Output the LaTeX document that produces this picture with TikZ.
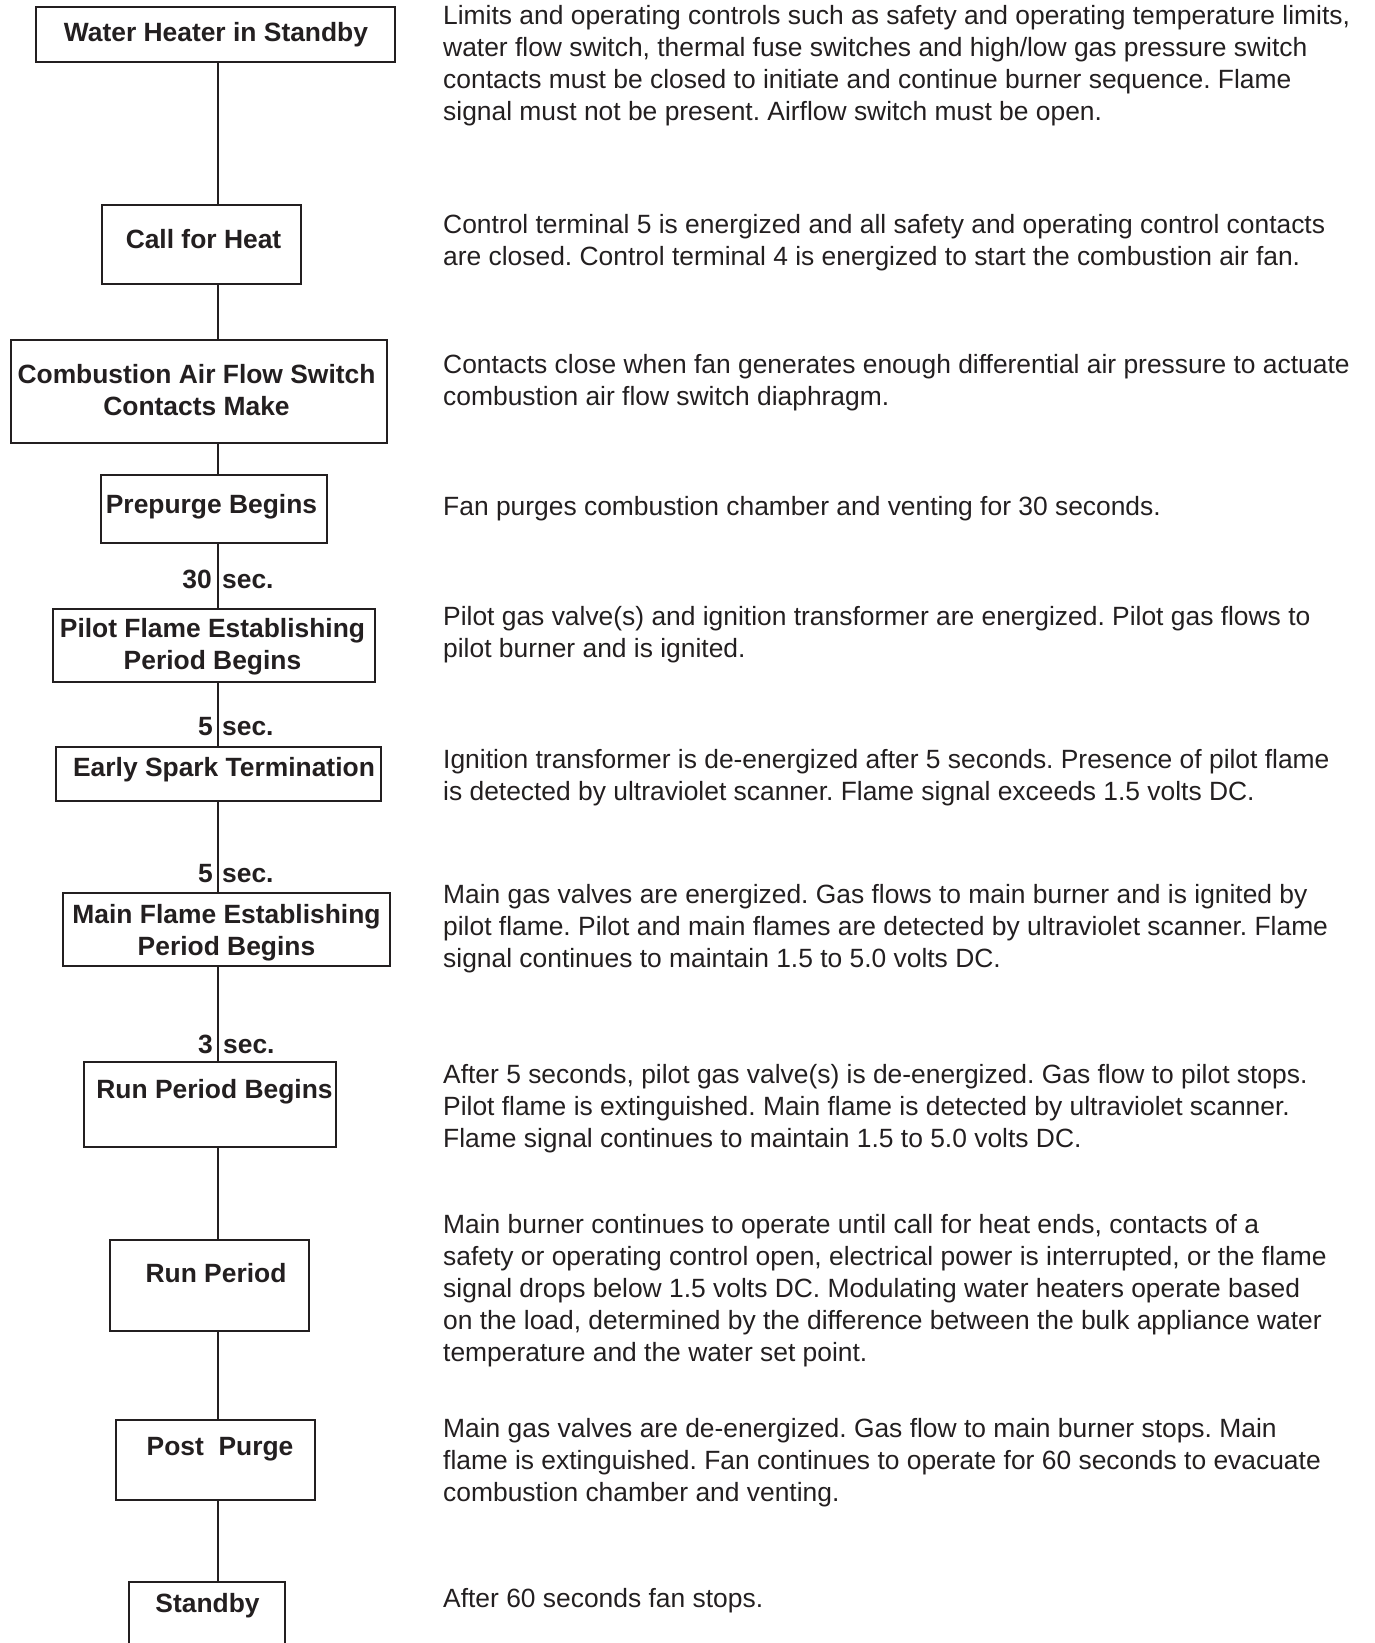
\documentclass[tikz,border=0pt]{standalone}
\usepackage{fontspec}
\setmainfont{Liberation Sans}
\frenchspacing
\definecolor{ink}{RGB}{35,31,32}
\tikzset{
  box/.style={draw=ink, line width=2.6pt, fill=white, inner sep=0pt},
  btext/.style={font=\bfseries\fontsize{26.4}{32}\selectfont, text=ink, inner sep=0pt, anchor=base},
  btwo/.style={btext, align=center, anchor=north, yshift=22.4pt},
  desc/.style={font=\fontsize{26.4}{32}\selectfont, text=ink, inner sep=0pt, align=left, anchor=north west, yshift=22.4pt},
  link/.style={draw=ink, line width=2pt}
}

\begin{document}
\begin{tikzpicture}[x=1pt,y=-1pt]
\useasboundingbox (0,0) rectangle (1374,1643);
\coordinate (spine) at (218,0);

\node[box, minimum width=359pt, minimum height=55pt] (b1) at (215.5,34.5) {};
\node[box, minimum width=199pt, minimum height=79pt] (b2) at (201.5,244.5) {};
\node[box, minimum width=376pt, minimum height=103pt] (b3) at (199,391.5) {};
\node[box, minimum width=226pt, minimum height=68pt] (b4) at (214,509) {};
\node[box, minimum width=322pt, minimum height=73pt] (b5) at (214,645.5) {};
\node[box, minimum width=325pt, minimum height=54pt] (b6) at (218.5,774) {};
\node[box, minimum width=327pt, minimum height=73pt] (b7) at (226.5,929.5) {};
\node[box, minimum width=252pt, minimum height=85pt] (b8) at (210,1104.5) {};
\node[box, minimum width=199pt, minimum height=91pt] (b9) at (209.5,1285.5) {};
\node[box, minimum width=199pt, minimum height=80pt] (b10) at (215.5,1460) {};
\node[box, minimum width=156pt, minimum height=98pt] (b11) at (207,1631) {};

\foreach \a/\b in {b1/b2,b2/b3,b3/b4,b4/b5,b5/b6,b6/b7,b7/b8,b8/b9,b9/b10,b10/b11}
  \draw[link] (\a.south -| spine) -- (\b.north -| spine);

\node[btext] (t1) at (216,42) {Water Heater in Standby};
\node[btext] (t2) at (203.5,248) {Call for Heat};
\node[btwo] (t3) at (196.5,383) {\strut Combustion Air Flow Switch\\Contacts Make};
\node[btext] (t4) at (211.5,513) {Prepurge Begins};
\node[btwo] (t5) at (212.5,637) {\strut Pilot Flame Establishing\\Period Begins};
\node[btext] (t6) at (224,776) {Early Spark Termination};
\node[btwo] (t7) at (226.5,923) {\strut Main Flame Establishing\\Period Begins};
\node[btext] (t8) at (214.5,1098) {Run Period Begins};
\node[btext] (t9) at (216,1282) {Run Period};
\node[btext] (t10) at (220,1455) {Post\ \ Purge};
\node[btext] (t11) at (207.5,1612) {Standby};

\node[btext, anchor=base east] (n1) at (212,588) {30};
\node[btext, anchor=base west] (s1) at (222,588) {sec.};
\node[btext, anchor=base east] (n2) at (213,735) {5};
\node[btext, anchor=base west] (s2) at (222,735) {sec.};
\node[btext, anchor=base east] (n3) at (213,882) {5};
\node[btext, anchor=base west] (s3) at (222,882) {sec.};
\node[btext, anchor=base east] (n4) at (213,1053) {3};
\node[btext, anchor=base west] (s4) at (223,1053) {sec.};

\node[desc] (d1) at (443,24) {\strut Limits and operating controls such as safety and operating temperature limits,\\water flow switch, thermal fuse switches and high/low gas pressure switch\\contacts must be closed to initiate and continue burner sequence. Flame\\signal must not be present. Airflow switch must be open.};
\node[desc] (d2) at (443,233) {\strut Control terminal 5 is energized and all safety and operating control contacts\\are closed. Control terminal 4 is energized to start the combustion air fan.};
\node[desc] (d3) at (443,373) {\strut Contacts close when fan generates enough differential air pressure to actuate\\combustion air flow switch diaphragm.};
\node[desc] (d4) at (443,515) {\strut Fan purges combustion chamber and venting for 30 seconds.};
\node[desc] (d5) at (443,625) {\strut Pilot gas valve(s) and ignition transformer are energized. Pilot gas flows to\\pilot burner and is ignited.};
\node[desc] (d6) at (443,768) {\strut Ignition transformer is de-energized after 5 seconds. Presence of pilot flame\\is detected by ultraviolet scanner. Flame signal exceeds 1.5 volts DC.};
\node[desc] (d7) at (443,903) {\strut Main gas valves are energized. Gas flows to main burner and is ignited by\\pilot flame. Pilot and main flames are detected by ultraviolet scanner. Flame\\signal continues to maintain 1.5 to 5.0 volts DC.};
\node[desc] (d8) at (443,1083) {\strut After 5 seconds, pilot gas valve(s) is de-energized. Gas flow to pilot stops.\\Pilot flame is extinguished. Main flame is detected by ultraviolet scanner.\\Flame signal continues to maintain 1.5 to 5.0 volts DC.};
\node[desc] (d9) at (443,1233) {\strut Main burner continues to operate until call for heat ends, contacts of a\\safety or operating control open, electrical power is interrupted, or the flame\\signal drops below 1.5 volts DC. Modulating water heaters operate based\\on the load, determined by the difference between the bulk appliance water\\temperature and the water set point.};
\node[desc] (d10) at (443,1437) {\strut Main gas valves are de-energized. Gas flow to main burner stops. Main\\flame is extinguished. Fan continues to operate for 60 seconds to evacuate\\combustion chamber and venting.};
\node[desc] (d11) at (443,1607) {\strut After 60 seconds fan stops.};
\end{tikzpicture}
\end{document}
